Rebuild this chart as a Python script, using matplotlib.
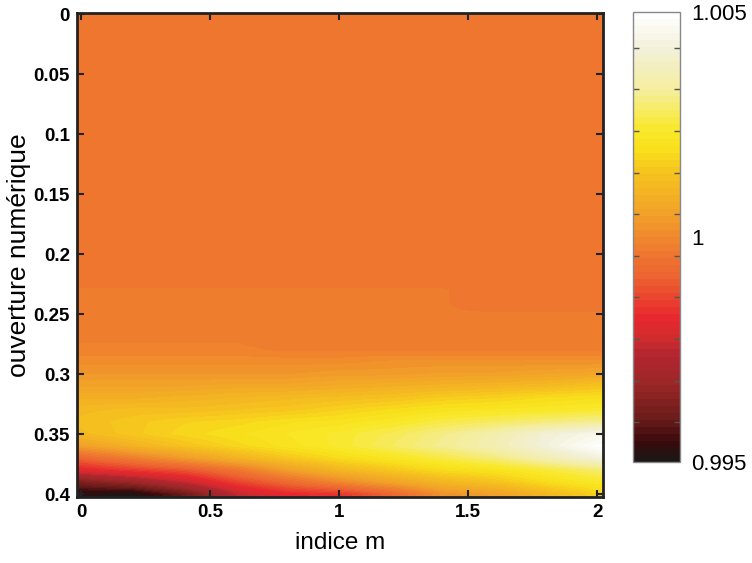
from matplotlib import pyplot as plt
from matplotlib.colors import LinearSegmentedColormap
from matplotlib.ticker import FixedLocator, FormatStrFormatter
import numpy as np

plt.rcParams['font.family'] = ['Liberation Sans', 'DejaVu Sans']

# indice m (colonnes)
indice_m = [0.0, 0.2, 0.4, 0.6, 0.8, 1.0, 1.2, 1.4, 1.6, 1.8, 2.0]

# ouverture numerique : zone uniforme (haut de la carte)
ouverture_haut = [0.00, 0.01, 0.02, 0.03, 0.04, 0.05, 0.06, 0.07, 0.08, 0.09,
                  0.10, 0.11, 0.12, 0.13, 0.14, 0.15, 0.16, 0.17, 0.18, 0.19]
valeur_haut = 0.9996

# ouverture numerique : zone qui varie (bas de la carte)
ouverture_bas = [0.20, 0.21, 0.22, 0.23, 0.24, 0.25, 0.26, 0.27, 0.28, 0.29,
                 0.30, 0.31, 0.32, 0.33, 0.34, 0.35, 0.36, 0.37, 0.38, 0.39, 0.40]
valeurs_bas = [
    [0.9996, 0.9996, 0.9996, 0.9996, 0.9996, 0.9996, 0.9996, 0.9996, 0.9996, 0.9996, 0.9996],
    [0.9996, 0.9996, 0.9996, 0.9996, 0.9996, 0.9996, 0.9996, 0.9996, 0.9996, 0.9996, 0.9996],
    [0.9996, 0.9996, 0.9996, 0.9996, 0.9996, 0.9996, 0.9996, 0.9996, 0.9996, 0.9996, 0.9996],
    [0.9997, 0.9997, 0.9997, 0.9997, 0.9997, 0.9997, 0.9997, 0.9997, 0.9996, 0.9996, 0.9996],
    [0.9997, 0.9997, 0.9997, 0.9997, 0.9997, 0.9997, 0.9997, 0.9997, 0.9996, 0.9996, 0.9996],
    [0.9997, 0.9997, 0.9997, 0.9997, 0.9997, 0.9997, 0.9997, 0.9997, 0.9997, 0.9997, 0.9997],
    [0.9997, 0.9997, 0.9997, 0.9997, 0.9997, 0.9997, 0.9997, 0.9997, 0.9997, 0.9997, 0.9997],
    [0.9998, 0.9998, 0.9998, 0.9998, 0.9997, 0.9997, 0.9997, 0.9997, 0.9997, 0.9997, 0.9997],
    [0.9999, 0.9999, 0.9999, 0.9999, 0.9998, 0.9998, 0.9998, 0.9998, 0.9998, 0.9998, 0.9998],
    [1.0001, 1.0001, 1.0001, 1.0001, 1.0001, 1.0001, 1.0002, 1.0002, 1.0002, 1.0002, 1.0002],
    [1.0003, 1.0003, 1.0003, 1.0003, 1.0003, 1.0004, 1.0004, 1.0005, 1.0005, 1.0006, 1.0007],
    [1.0006, 1.0006, 1.0006, 1.0007, 1.0007, 1.0008, 1.0009, 1.0010, 1.0011, 1.0012, 1.0014],
    [1.0009, 1.0009, 1.0010, 1.0011, 1.0012, 1.0013, 1.0014, 1.0016, 1.0017, 1.0019, 1.0020],
    [1.0012, 1.0013, 1.0013, 1.0014, 1.0015, 1.0017, 1.0019, 1.0021, 1.0022, 1.0023, 1.0024],
    [1.0013, 1.0015, 1.0017, 1.0018, 1.0020, 1.0021, 1.0023, 1.0026, 1.0028, 1.0030, 1.0032],
    [1.0012, 1.0015, 1.0018, 1.0020, 1.0022, 1.0024, 1.0027, 1.0031, 1.0035, 1.0041, 1.0045],
    [1.0005, 1.0010, 1.0014, 1.0018, 1.0021, 1.0024, 1.0028, 1.0032, 1.0036, 1.0042, 1.0049],
    [0.9992, 0.9998, 1.0004, 1.0010, 1.0015, 1.0019, 1.0022, 1.0026, 1.0030, 1.0036, 1.0042],
    [0.9981, 0.9985, 0.9989, 0.9996, 1.0005, 1.0011, 1.0015, 1.0019, 1.0021, 1.0025, 1.0029],
    [0.9963, 0.9968, 0.9976, 0.9986, 0.9993, 1.0000, 1.0006, 1.0011, 1.0014, 1.0019, 1.0023],
    [0.9952, 0.9951, 0.9960, 0.9975, 0.9982, 0.9984, 0.9992, 1.0002, 1.0005, 1.0011, 1.0017],
]

vmin, vmax = 0.995, 1.005
cbar_labels = [0.995, 1.0, 1.005]
cbar_minor = [0.99589, 0.99681, 0.99773, 0.99866, 0.99958,
              1.00051, 1.00143, 1.00236, 1.00328, 1.00420]

# palette type "hot" de matlab, 64 niveaux
couleurs = [
    (0.00, '#1e1616'), (0.04, '#3a0a0c'), (0.09, '#6a1c1a'), (0.18, '#a02828'),
    (0.23, '#b02530'), (0.27, '#d02c2e'), (0.32, '#e8282e'), (0.37, '#ea4a2e'),
    (0.41, '#ed6430'), (0.46, '#ee7630'), (0.55, '#f2a02a'), (0.645, '#f6c31f'),
    (0.70, '#f9e01c'), (0.74, '#f9e828'), (0.83, '#f5ee9c'), (0.92, '#f2f0d8'),
    (1.00, '#ffffff'),
]
cmap = LinearSegmentedColormap.from_list('chaud', couleurs, N=64)

data = np.vstack([np.full((len(ouverture_haut), len(indice_m)), valeur_haut),
                  np.array(valeurs_bas)])
ouverture = ouverture_haut + ouverture_bas
dx = indice_m[1] - indice_m[0]
dy = ouverture[1] - ouverture[0]

fig = plt.figure(figsize=(7.52, 5.63), dpi=100)
ax = fig.add_axes([0.1024, 0.1172, 0.6995, 0.8597])
im = ax.imshow(data, cmap=cmap, vmin=vmin, vmax=vmax, aspect='auto',
               interpolation='bilinear', interpolation_stage='data',
               extent=(indice_m[0] - dx / 2, indice_m[-1] + dx / 2,
                       ouverture[-1] + dy / 2, ouverture[0] - dy / 2))
ax.set_xlim(-0.016, 2.023)
ax.set_ylim(0.4025, -0.001)
ax.set_xticks([0, 0.5, 1, 1.5, 2])
ax.set_yticks([0, 0.05, 0.1, 0.15, 0.2, 0.25, 0.3, 0.35, 0.4])
ax.xaxis.set_major_formatter(FormatStrFormatter('%g'))
ax.yaxis.set_major_formatter(FormatStrFormatter('%g'))
ax.tick_params(direction='in', top=True, right=True, length=5, width=1.5,
               color='#222222', labelsize=13.5, pad=5)
for lab in ax.get_xticklabels() + ax.get_yticklabels():
    lab.set_fontweight('bold')
for sp in ax.spines.values():
    sp.set_linewidth(2)
    sp.set_color('#222222')
ax.set_xlabel('indice m', fontsize=17.5, labelpad=8)
ax.set_ylabel('ouverture numérique', fontsize=19, labelpad=2)

cax = fig.add_axes([0.8418, 0.1794, 0.0625, 0.7993])
cb = fig.colorbar(im, cax=cax)
cb.outline.set_edgecolor('#888888')
cb.outline.set_linewidth(1)
cb.set_ticks(cbar_labels)
cb.set_ticklabels(['0.995', '1', '1.005'])
cax.yaxis.set_minor_locator(FixedLocator(cbar_minor))
cax.tick_params(which='major', length=0, labelsize=16, pad=8)
cax.tick_params(which='minor', direction='in', left=True, right=True,
                length=4, width=1, color='#555555')

fig.savefig('out.png', dpi=100)
